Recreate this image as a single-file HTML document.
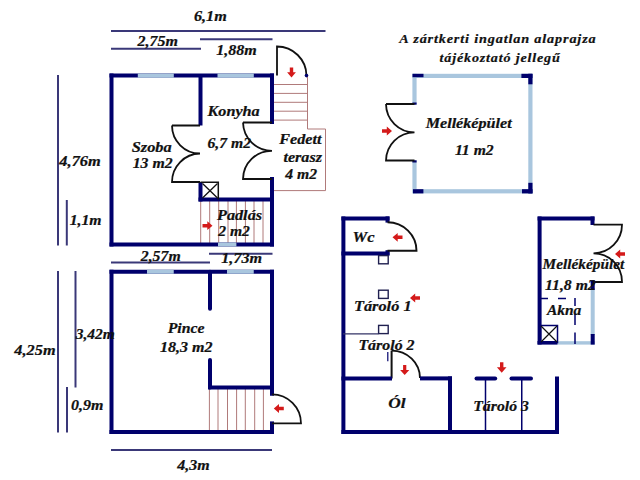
<!DOCTYPE html>
<html><head><meta charset="utf-8"><style>
html,body{margin:0;padding:0;background:#fff;}
svg{display:block;}
text{font-family:"Liberation Serif",serif;font-weight:bold;font-style:italic;fill:#111;stroke:#111;stroke-width:0.22px;}
</style></head><body>
<svg width="640" height="480" viewBox="0 0 640 480">
<rect width="640" height="480" fill="#fff"/>
<line x1="111" y1="31" x2="325.5" y2="31" stroke="#3a3878" stroke-width="2"/>
<line x1="111" y1="48.8" x2="201" y2="48.8" stroke="#3a3878" stroke-width="2"/>
<line x1="200" y1="39.25" x2="272.5" y2="39.25" stroke="#3a3878" stroke-width="2"/>
<line x1="58" y1="75" x2="58" y2="245.5" stroke="#3a3878" stroke-width="2"/>
<line x1="66.8" y1="200" x2="66.8" y2="245.5" stroke="#3a3878" stroke-width="2"/>
<line x1="58" y1="271" x2="58" y2="432.5" stroke="#3a3878" stroke-width="2"/>
<line x1="75.5" y1="271" x2="75.5" y2="387.5" stroke="#3a3878" stroke-width="2"/>
<line x1="67" y1="387" x2="67" y2="432.5" stroke="#3a3878" stroke-width="2"/>
<line x1="111" y1="262.5" x2="210" y2="262.5" stroke="#3a3878" stroke-width="2"/>
<line x1="209" y1="253.75" x2="272.5" y2="253.75" stroke="#3a3878" stroke-width="2"/>
<line x1="111" y1="450" x2="272" y2="450" stroke="#3a3878" stroke-width="2"/>
<line x1="274" y1="84.5" x2="307.5" y2="84.5" stroke="#b07a7a" stroke-width="1"/>
<line x1="274" y1="93.4" x2="307.5" y2="93.4" stroke="#b07a7a" stroke-width="1"/>
<line x1="274" y1="102.3" x2="307.5" y2="102.3" stroke="#b07a7a" stroke-width="1"/>
<line x1="274" y1="111.2" x2="307.5" y2="111.2" stroke="#b07a7a" stroke-width="1"/>
<line x1="274" y1="120.1" x2="307.5" y2="120.1" stroke="#b07a7a" stroke-width="1"/>
<path d="M307.5,76 L307.5,129 L325.5,129 L325.5,190.6 L274,190.6" fill="none" stroke="#b07a7a" stroke-width="1"/>
<line x1="200.7" y1="201" x2="200.7" y2="243" stroke="#b07a7a" stroke-width="1"/>
<line x1="209.7" y1="201" x2="209.7" y2="243" stroke="#b07a7a" stroke-width="1"/>
<line x1="218.7" y1="201" x2="218.7" y2="243" stroke="#b07a7a" stroke-width="1"/>
<line x1="228" y1="201" x2="228" y2="243" stroke="#b07a7a" stroke-width="1"/>
<line x1="236.4" y1="201" x2="236.4" y2="243" stroke="#b07a7a" stroke-width="1"/>
<line x1="245.4" y1="201" x2="245.4" y2="243" stroke="#b07a7a" stroke-width="1"/>
<line x1="254" y1="201" x2="254" y2="243" stroke="#b07a7a" stroke-width="1"/>
<line x1="263" y1="201" x2="263" y2="243" stroke="#b07a7a" stroke-width="1"/>
<line x1="111.5" y1="75.5" x2="272" y2="75.5" stroke="#00006c" stroke-width="4" stroke-linecap="square"/>
<rect x="137.8" y="73.5" width="36" height="4.2" fill="#a9c6de"/>
<rect x="217.5" y="73.5" width="36.3" height="4.2" fill="#a9c6de"/>
<line x1="111.5" y1="75.5" x2="111.5" y2="244.5" stroke="#00006c" stroke-width="4" stroke-linecap="square"/>
<line x1="111.5" y1="244.5" x2="272" y2="244.5" stroke="#00006c" stroke-width="4" stroke-linecap="square"/>
<rect x="218" y="242.5" width="18.4" height="4" fill="#a9c6de"/>
<line x1="272" y1="75.5" x2="272" y2="122" stroke="#00006c" stroke-width="4" stroke-linecap="square"/>
<line x1="272" y1="179" x2="272" y2="244.5" stroke="#00006c" stroke-width="4" stroke-linecap="square"/>
<line x1="200.5" y1="75.5" x2="200.5" y2="125.5" stroke="#00006c" stroke-width="4" stroke-linecap="butt"/>
<line x1="200.5" y1="184" x2="200.5" y2="199.5" stroke="#00006c" stroke-width="4" stroke-linecap="square"/>
<line x1="200.5" y1="199.5" x2="272" y2="199.5" stroke="#00006c" stroke-width="4" stroke-linecap="square"/>
<path d="M200.5,182.3 L218.3,182.3 L218.3,199.5" fill="none" stroke="#111" stroke-width="1.5"/>
<path d="M202.5,183.5 L217.5,198 M217.5,183.5 L202.5,198" fill="none" stroke="#111" stroke-width="1.3"/>
<path d="M172,125.5 L200,125.5 M172,125.5 A28,28 0 0 0 200,153.5 A28.5,28.5 0 0 0 172,182 L200,182" fill="none" stroke="#111" stroke-width="1.8"/>
<path d="M243,122.5 L272,122.5 M243,122.5 A29,29 0 0 0 272,150.8 A28.5,28.5 0 0 0 243,179 L272,179" fill="none" stroke="#111" stroke-width="1.8"/>
<path d="M277,75.6 L277,46.5 A29.5,29.5 0 0 1 306.5,75.6" fill="none" stroke="#111" stroke-width="1.8"/>
<circle cx="306.5" cy="75.6" r="1.8" fill="#00006c"/>
<path d="M291.50,77.50 L295.90,72.30 L293.20,72.30 L293.20,67.50 L289.80,67.50 L289.80,72.30 L287.10,72.30 Z" fill="#d41a1a"/>
<path d="M212.50,225.70 L207.30,221.30 L207.30,224.00 L202.50,224.00 L202.50,227.40 L207.30,227.40 L207.30,230.10 Z" fill="#d41a1a"/>
<line x1="209.4" y1="389" x2="209.4" y2="431" stroke="#b07a7a" stroke-width="1"/>
<line x1="218" y1="389" x2="218" y2="431" stroke="#b07a7a" stroke-width="1"/>
<line x1="227.5" y1="389" x2="227.5" y2="431" stroke="#b07a7a" stroke-width="1"/>
<line x1="236.6" y1="389" x2="236.6" y2="431" stroke="#b07a7a" stroke-width="1"/>
<line x1="245.3" y1="389" x2="245.3" y2="431" stroke="#b07a7a" stroke-width="1"/>
<line x1="254.7" y1="389" x2="254.7" y2="431" stroke="#b07a7a" stroke-width="1"/>
<line x1="263.4" y1="389" x2="263.4" y2="431" stroke="#b07a7a" stroke-width="1"/>
<line x1="111.5" y1="271.75" x2="272" y2="271.75" stroke="#00006c" stroke-width="4" stroke-linecap="square"/>
<rect x="147" y="269.75" width="26.75" height="4" fill="#a9c6de"/>
<rect x="227" y="269.75" width="26.75" height="4" fill="#a9c6de"/>
<line x1="111.5" y1="271.75" x2="111.5" y2="432" stroke="#00006c" stroke-width="4" stroke-linecap="square"/>
<line x1="111.5" y1="432" x2="272" y2="432" stroke="#00006c" stroke-width="4" stroke-linecap="square"/>
<line x1="272" y1="271.75" x2="272" y2="393.75" stroke="#00006c" stroke-width="4" stroke-linecap="square"/>
<line x1="272" y1="423.4" x2="272" y2="432" stroke="#00006c" stroke-width="4" stroke-linecap="square"/>
<line x1="210" y1="271.75" x2="210" y2="308.75" stroke="#00006c" stroke-width="4" stroke-linecap="round"/>
<line x1="210" y1="360" x2="210" y2="387.5" stroke="#00006c" stroke-width="4" stroke-linecap="round"/>
<line x1="210" y1="387.5" x2="272" y2="387.5" stroke="#00006c" stroke-width="4" stroke-linecap="square"/>
<path d="M272,394.4 A29,29 0 0 1 301,423.4 L272,423.4" fill="none" stroke="#111" stroke-width="1.8"/>
<path d="M273.80,408.50 L279.00,412.90 L279.00,410.20 L283.80,410.20 L283.80,406.80 L279.00,406.80 L279.00,404.10 Z" fill="#d41a1a"/>
<rect x="412.5" y="73.8" width="120" height="4.2" fill="#a9c6de"/>
<rect x="412.5" y="189.2" width="120" height="4.2" fill="#a9c6de"/>
<rect x="412.4" y="73.8" width="4.2" height="30.5" fill="#a9c6de"/>
<rect x="412.4" y="160.3" width="4.2" height="33" fill="#a9c6de"/>
<rect x="528.3" y="73.8" width="4.2" height="119.6" fill="#a9c6de"/>
<rect x="412.5" y="73.8" width="11" height="3.4" fill="#00006c"/>
<rect x="521.4" y="73.8" width="11" height="4.2" fill="#00006c"/>
<rect x="528.3" y="73.8" width="4.2" height="10.5" fill="#00006c"/>
<rect x="413" y="189.2" width="10.4" height="4.2" fill="#00006c"/>
<rect x="522" y="189.2" width="10.5" height="4.2" fill="#00006c"/>
<rect x="528.3" y="182.8" width="4.2" height="10.6" fill="#00006c"/>
<rect x="412.4" y="102.5" width="4.2" height="2.2" fill="#00006c"/>
<rect x="412.4" y="160.3" width="4.2" height="2.2" fill="#00006c"/>
<path d="M386,104 L414.5,104 M386,104 A28.5,28.5 0 0 0 414.5,132.3 A28.5,28.5 0 0 0 386,160.5 L414.5,160.5" fill="none" stroke="#111" stroke-width="1.8"/>
<path d="M392.00,131.00 L386.80,126.60 L386.80,129.30 L382.00,129.30 L382.00,132.70 L386.80,132.70 L386.80,135.40 Z" fill="#d41a1a"/>
<line x1="343.4" y1="218.4" x2="343.4" y2="432" stroke="#00006c" stroke-width="4" stroke-linecap="square"/>
<line x1="343.4" y1="218.4" x2="387.5" y2="218.4" stroke="#00006c" stroke-width="4" stroke-linecap="square"/>
<rect x="385.5" y="216.4" width="4" height="6.2" fill="#00006c"/>
<line x1="343.4" y1="253.4" x2="387.5" y2="253.4" stroke="#00006c" stroke-width="4" stroke-linecap="square"/>
<rect x="385.5" y="250.2" width="4" height="5.2" fill="#00006c"/>
<path d="M387.5,222.3 A29,28.5 0 0 1 416.5,250.8 L387.5,250.8" fill="none" stroke="#111" stroke-width="1.9"/>
<path d="M392.50,237.30 L397.70,241.70 L397.70,239.00 L402.50,239.00 L402.50,235.60 L397.70,235.60 L397.70,232.90 Z" fill="#d41a1a"/>
<rect x="378.6" y="255.6" width="9.6" height="8.2" fill="none" stroke="#202050" stroke-width="1.4"/>
<rect x="378.6" y="290.2" width="9.6" height="8.2" fill="none" stroke="#202050" stroke-width="1.4"/>
<rect x="378.6" y="325.4" width="9.6" height="8.2" fill="none" stroke="#202050" stroke-width="1.4"/>
<line x1="343" y1="333.8" x2="378.5" y2="333.8" stroke="#333366" stroke-width="1.2"/>
<path d="M410.00,298.00 L415.20,302.40 L415.20,299.70 L420.00,299.70 L420.00,296.30 L415.20,296.30 L415.20,293.60 Z" fill="#d41a1a"/>
<line x1="391.6" y1="350.6" x2="391.6" y2="378.5" stroke="#111" stroke-width="2"/>
<path d="M391.6,350.6 A28.4,27.5 0 0 1 420,378.1" fill="none" stroke="#111" stroke-width="1.9"/>
<line x1="387.8" y1="352" x2="387.8" y2="361.3" stroke="#00006c" stroke-width="1.2"/>
<path d="M404.70,375.00 L409.30,370.00 L406.30,370.00 L406.30,365.00 L403.10,365.00 L403.10,370.00 L400.10,370.00 Z" fill="#d41a1a"/>
<line x1="343.4" y1="378.4" x2="390" y2="378.4" stroke="#00006c" stroke-width="4" stroke-linecap="square"/>
<line x1="422" y1="378.4" x2="450" y2="378.4" stroke="#00006c" stroke-width="4" stroke-linecap="square"/>
<line x1="450" y1="378.4" x2="450" y2="432" stroke="#00006c" stroke-width="4" stroke-linecap="square"/>
<line x1="343.4" y1="432" x2="557" y2="432" stroke="#00006c" stroke-width="4" stroke-linecap="square"/>
<line x1="476.5" y1="378.5" x2="495.2" y2="378.5" stroke="#00006c" stroke-width="4" stroke-linecap="round"/>
<line x1="511.5" y1="378.5" x2="531" y2="378.5" stroke="#00006c" stroke-width="4" stroke-linecap="round"/>
<line x1="485.5" y1="378.5" x2="485.5" y2="432" stroke="#00006c" stroke-width="1.5"/>
<line x1="521.75" y1="378.5" x2="521.75" y2="432" stroke="#00006c" stroke-width="1.5"/>
<line x1="557" y1="378.5" x2="557" y2="432" stroke="#00006c" stroke-width="4" stroke-linecap="square"/>
<path d="M501.70,372.70 L506.50,367.20 L503.40,367.20 L503.40,362.20 L500.00,362.20 L500.00,367.20 L496.90,367.20 Z" fill="#d41a1a"/>
<rect x="590.7" y="290" width="4" height="45" fill="#a9c6de"/>
<rect x="557.5" y="341.2" width="37.2" height="3.4" fill="#a9c6de"/>
<line x1="539.6" y1="218.5" x2="539.6" y2="342.5" stroke="#00006c" stroke-width="4" stroke-linecap="square"/>
<line x1="539.6" y1="218.5" x2="592.5" y2="218.5" stroke="#00006c" stroke-width="4" stroke-linecap="square"/>
<rect x="590.5" y="216.5" width="4" height="8.5" fill="#00006c"/>
<path d="M593.5,224.7 L622,224.7 A28.5,28.5 0 0 1 593.5,253.3 A28.5,28.5 0 0 1 622,282 L593.5,282" fill="none" stroke="#111" stroke-width="1.8"/>
<circle cx="593.5" cy="282" r="2" fill="#00006c"/>
<rect x="590.7" y="281" width="4" height="9" fill="#00006c"/>
<rect x="590.7" y="334" width="4" height="10.6" fill="#00006c"/>
<rect x="537.5" y="341" width="20" height="3.6" fill="#00006c"/>
<path d="M541,298.5 L548,298.5 M558,298.5 L566,298.5" fill="none" stroke="#00006c" stroke-width="1.5"/>
<path d="M575,298 L575,306 M575,314 L575,325 M575,332.5 L575,344" fill="none" stroke="#00006c" stroke-width="1.5"/>
<rect x="540.5" y="325.5" width="17" height="17" fill="none" stroke="#00006c" stroke-width="1.5"/>
<path d="M541,326 L557,342 M557,326 L541,342" fill="none" stroke="#111" stroke-width="1.2"/>
<path d="M615.00,254.00 L620.20,258.40 L620.20,255.70 L625.00,255.70 L625.00,252.30 L620.20,252.30 L620.20,249.60 Z" fill="#d41a1a"/>
<text transform="translate(193.91,21.4) scale(1.095,1)" font-size="14.8">6,1m</text>
<text transform="translate(137.56,46) scale(1.083,1)" font-size="14.8">2,75m</text>
<text transform="translate(216.28,54.8) scale(1.085,1)" font-size="14.8">1,88m</text>
<text transform="translate(207.46,115.6) scale(1.097,1)" font-size="14.8">Konyha</text>
<text transform="translate(131.67,151.9) scale(1.109,1)" font-size="14.8">Szoba</text>
<text transform="translate(132.68,167.8) scale(1.071,1)" font-size="14.8">13 m2</text>
<text transform="translate(207.53,148.3) scale(1.058,1)" font-size="14.8">6,7 m2</text>
<text transform="translate(279.25,144.3) scale(1.092,1)" font-size="14.8">Fedett</text>
<text transform="translate(283.42,161.8) scale(1.090,1)" font-size="14.8">terasz</text>
<text transform="translate(285.16,178.75) scale(1.062,1)" font-size="14.8">4 m2</text>
<text transform="translate(217.00,220.2) scale(1.097,1)" font-size="14.8">Padlás</text>
<text transform="translate(218.16,236.1) scale(1.056,1)" font-size="14.8">2 m2</text>
<text transform="translate(59.36,165.8) scale(1.107,1)" font-size="14.8">4,76m</text>
<text transform="translate(69.69,225) scale(1.062,1)" font-size="14.8">1,1m</text>
<text transform="translate(140.76,260.9) scale(1.069,1)" font-size="14.8">2,57m</text>
<text transform="translate(221.28,263) scale(1.093,1)" font-size="14.8">1,73m</text>
<text transform="translate(14.36,355) scale(1.102,1)" font-size="14.8">4,25m</text>
<text transform="translate(75.76,339.4) scale(1.047,1)" font-size="14.8">3,42m</text>
<text transform="translate(71.02,409.6) scale(1.081,1)" font-size="14.8">0,9m</text>
<text transform="translate(167.70,333.3) scale(1.068,1)" font-size="14.8">Pince</text>
<text transform="translate(159.88,351.6) scale(1.088,1)" font-size="14.8">18,3 m2</text>
<text transform="translate(177.36,469.5) scale(1.080,1)" font-size="14.8">4,3m</text>
<text transform="translate(399.31,43.3) scale(1.054,1)" font-size="13.5" letter-spacing="0.8">A zártkerti ingatlan alaprajza</text>
<text transform="translate(439.58,62.2) scale(1.043,1)" font-size="13.5" letter-spacing="0.8">tájékoztató jellegű</text>
<text transform="translate(425.66,128.4) scale(1.091,1)" font-size="14.8">Melléképület</text>
<text transform="translate(454.89,155.3) scale(1.062,1)" font-size="14.8">11 m2</text>
<text transform="translate(352.59,241.9) scale(1.116,1)" font-size="14.8">Wc</text>
<text transform="translate(353.96,311) scale(1.103,1)" font-size="14.8">Tároló 1</text>
<text transform="translate(358.39,349.8) scale(1.076,1)" font-size="14.8">Tároló 2</text>
<text transform="translate(388.31,407.5) scale(1.168,1)" font-size="14.8">Ól</text>
<text transform="translate(473.19,410.8) scale(1.068,1)" font-size="14.8">Tároló 3</text>
<text transform="translate(542.55,269.3) scale(1.037,1)" font-size="14.8">Melléképület</text>
<text transform="translate(545.09,290) scale(1.062,1)" font-size="14.8">11,8 m2</text>
<text transform="translate(546.88,315.3) scale(1.048,1)" font-size="14.8">Akna</text>
</svg>
</body></html>
